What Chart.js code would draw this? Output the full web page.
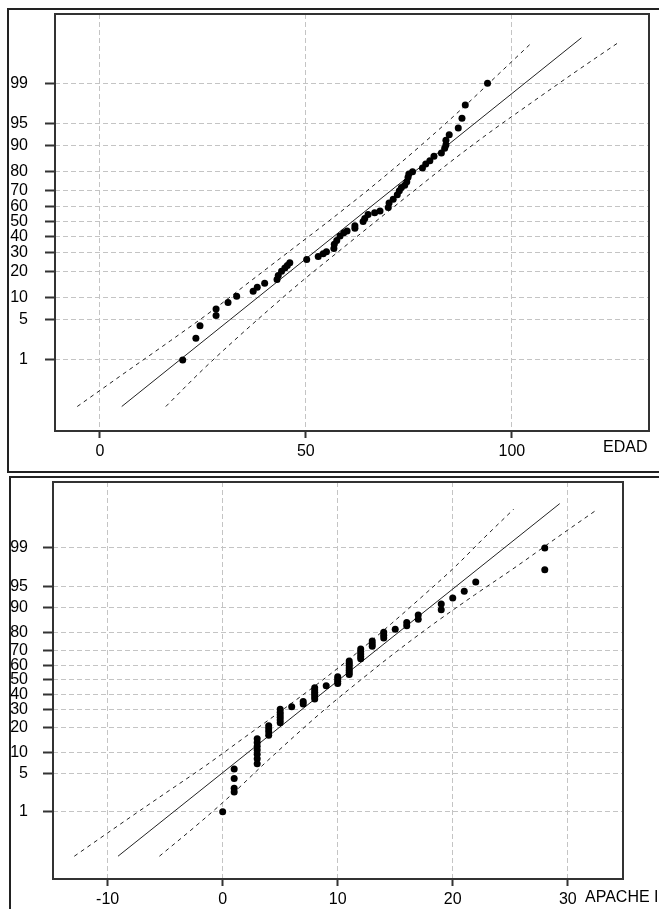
<!DOCTYPE html>
<html>
<head>
<meta charset="utf-8">
<title>Gráficos de probabilidad normal</title>
<script src="https://cdn.jsdelivr.net/npm/chart.js@4/dist/chart.umd.min.js"></script>
<style>
  body { margin: 0; background: #fff; width: 659px; height: 909px; overflow: hidden; position: relative; }
  .frame { position: absolute; box-sizing: border-box; border: 2px solid #222; }
  #frame-top { left: 7px; top: 8px; width: 700px; height: 465px; }
  #frame-bottom { left: 9px; top: 476px; width: 700px; height: 500px; }
  canvas { position: absolute; left: 0; }
  #edad-chart { top: 0; }
  #apache-chart { top: 472px; }
</style>
</head>
<body>
<div class="frame" id="frame-top"></div>
<div class="frame" id="frame-bottom"></div>
<canvas id="edad-chart" width="659" height="472"></canvas>
<canvas id="apache-chart" width="659" height="437"></canvas>
<script>
// --- 1. DATA (percent values) ---
const pctTicks = [1, 5, 10, 20, 30, 40, 50, 60, 70, 80, 90, 95, 99];
// percent levels where the confidence bands were read (x of each band per level)
const bandPct = [0.094, 0.62, 2.28, 6.68, 15.9, 30.9, 50, 69.1, 84.1, 93.3, 97.7, 99.38, 99.87];

// EDAD panel
const edadTicks = [0, 50, 100];
const edadX = [20.1, 23.3, 24.3, 28.2, 28.2, 31.1, 33.2, 37.2, 38.2, 40.0, 43.0, 43.3, 44.1, 44.9, 45.5, 46.1,
  50.2, 53.0, 54.2, 55.0, 56.8, 56.9, 57.5, 58.3, 59.2, 60.0, 61.9, 61.9, 63.9, 64.3, 65.1, 66.7, 68.0,
  70.0, 70.2, 71.2, 72.2, 72.7, 73.2, 74.0, 74.5, 74.8, 75.0, 75.9, 78.3, 79.1, 80.1, 81.1, 82.9, 83.7,
  84.0, 84.0, 84.8, 87.0, 87.9, 88.7, 94.1];
const edadPct = [1.0, 2.5, 4.0, 5.7, 7.1, 8.7, 10.5, 12.1, 13.5, 15.0, 16.5, 18.2, 20.2, 21.8, 23.0, 24.4,
  26.2, 27.9, 29.4, 30.6, 32.6, 35.1, 37.6, 40.4, 42.6, 43.7, 45.5, 47.3, 50.0, 52.0, 54.7, 56.0, 57.1,
  59.4, 62.2, 64.7, 67.4, 69.8, 71.7, 73.0, 74.9, 77.2, 78.8, 79.9, 81.6, 83.4, 84.7, 86.4, 87.6, 89.1,
  90.1, 91.4, 92.8, 94.2, 95.9, 97.5, 99.0];
const edadFitX = [5.3, 116.9];
const edadFitPct = [0.094, 99.9];
const edadUpperX = [-5.5, 6.9, 17.2, 27.2, 36.6, 46.0, 55.4, 64.5, 73.2, 81.5, 89.4, 97.1, 104.9];
const edadLowerX = [16.0, 24.8, 32.6, 40.7, 49.1, 58.0, 66.9, 75.9, 85.0, 94.6, 104.7, 115.1, 125.9];

// APACHE II panel
const apacheTicks = [-10, 0, 10, 20, 30];
const apacheX = [0, 1, 1, 1, 1, 3, 3, 3, 3, 3, 3, 3, 4, 4, 4, 4, 5, 5, 5, 5, 5, 5, 6, 7, 7,
  8, 8, 8, 8, 8, 8, 9, 10, 10, 10, 10, 11, 11, 11, 11, 11, 11, 11, 12, 12, 12, 12, 12,
  13, 13, 13, 14, 14, 14, 15, 16, 16, 17, 17, 19, 19, 20, 21, 22, 28, 28];
const apachePct = [1.0, 2.4, 2.8, 4.1, 5.8, 7.0, 8.2, 9.5, 10.8, 12.1, 13.5, 15.0, 16.5, 18.0, 19.5, 21.0,
  22.5, 24.0, 25.5, 27.0, 28.5, 30.2, 31.8, 33.5, 35.2, 36.8, 38.3, 39.9, 41.4, 43.0, 44.5, 46.0,
  47.5, 49.0, 50.6, 52.2, 53.8, 55.3, 56.8, 58.4, 60.0, 61.5, 63.0, 64.5, 66.1, 67.6, 69.2, 70.7,
  72.3, 73.8, 75.4, 77.0, 78.5, 80.0, 81.4, 83.0, 84.4, 85.8, 87.4, 89.2, 91.0, 92.6, 94.1, 95.8, 97.4, 99.0];
const apacheFitX = [-9.1, 29.3];
const apacheFitPct = [0.094, 99.906];
const apacheUpperX = [-12.9, -8.6, -5.0, -1.4, 2.0, 5.4, 8.7, 11.8, 14.7, 17.5, 20.2, 22.7, 25.3];
const apacheLowerX = [-5.5, -1.9, 0.9, 3.5, 6.2, 9.0, 12.0, 15.1, 18.4, 21.9, 25.5, 29.0, 32.6];

// --- 2. HELPERS ---
// inverse normal CDF (Acklam), used to place percents on the probability axis
function probit(p) {
    const a = [-39.69683028665376, 220.9460984245205, -275.9285104469687, 138.3577518672690, -30.66479806614716, 2.506628277459239];
    const b = [-54.47609879822406, 161.5858368580409, -155.6989798598866, 66.80131188771972, -13.28068155288572];
    const c = [-0.007784894002430293, -0.3223964580411365, -2.400758277161838, -2.549732539343734, 4.374664141464968, 2.938163982698783];
    const d = [0.007784695709041462, 0.3224671290700398, 2.445134137142996, 3.754408661907416];
    const pLow = 0.02425;
    if (p < pLow) {
        const q = Math.sqrt(-2 * Math.log(p));
        return (((((c[0] * q + c[1]) * q + c[2]) * q + c[3]) * q + c[4]) * q + c[5]) / ((((d[0] * q + d[1]) * q + d[2]) * q + d[3]) * q + 1);
    }
    if (p <= 1 - pLow) {
        const q = p - 0.5, r = q * q;
        return (((((a[0] * r + a[1]) * r + a[2]) * r + a[3]) * r + a[4]) * r + a[5]) * q / (((((b[0] * r + b[1]) * r + b[2]) * r + b[3]) * r + b[4]) * r + 1);
    }
    const q = Math.sqrt(-2 * Math.log(1 - p));
    return -(((((c[0] * q + c[1]) * q + c[2]) * q + c[3]) * q + c[4]) * q + c[5]) / ((((d[0] * q + d[1]) * q + d[2]) * q + d[3]) * q + 1);
}

const toPoints = (xs, pcts) => xs.map((x, i) => ({ x: x, y: probit(pcts[i] / 100) }));

const FONT = { family: '"Liberation Sans", Arial, sans-serif', size: 16 };
const INK = '#000';

// frame round the plot area + axis name written on the tick-label row
const framePlugin = {
    id: 'frame',
    afterDatasetsDraw(chart, args, opts) {
        const { ctx, chartArea: a } = chart;
        ctx.save();
        ctx.strokeStyle = '#333';
        ctx.lineWidth = 2;
        ctx.strokeRect(a.left, a.top, a.right - a.left, a.bottom - a.top);
        ctx.font = `${FONT.size}px ${FONT.family}`;
        ctx.fillStyle = INK;
        ctx.textBaseline = 'middle';
        ctx.textAlign = 'left';
        ctx.fillText(opts.title, opts.titleX, opts.titleY);
        ctx.restore();
    }
};

// keep the plot area exactly where the layout puts it (no extra label padding)
const noScalePadding = s => { s.paddingTop = 0; s.paddingBottom = 0; s.paddingLeft = 0; s.paddingRight = 0; };

// --- 3. CHART BUILDER ---
function buildProbPlot(canvasId, d) {
    const lineDs = (xs, pcts, dashed) => ({
        data: toPoints(xs, pcts),
        showLine: true,
        pointRadius: 0,
        borderColor: '#222',
        borderWidth: 1,
        borderDash: dashed ? [4, 4] : [],
        cubicInterpolationMode: 'monotone'
    });

    return new Chart(document.getElementById(canvasId), {
        type: 'scatter',
        data: {
            datasets: [
                {
                    data: toPoints(d.x, d.pct),
                    pointRadius: 3.5,
                    pointBackgroundColor: '#000',
                    pointBorderWidth: 0
                },
                lineDs(d.fitX, d.fitPct, false),
                lineDs(d.upX, bandPct, true),
                lineDs(d.loX, bandPct, true)
            ]
        },
        options: {
            responsive: false,
            animation: false,
            layout: { padding: { top: d.padTop, right: d.padRight, left: 0, bottom: 0 } },
            scales: {
                x: {
                    type: 'linear',
                    min: d.xMin,
                    max: d.xMax,
                    afterFit: s => { s.height = d.xAxisH; noScalePadding(s); },
                    afterBuildTicks: s => { s.ticks = d.xTicks.map(v => ({ value: v })); },
                    ticks: { font: FONT, color: INK, padding: 4, maxRotation: 0 },
                    grid: { color: '#c4c4c4', tickLength: 7, tickColor: '#333', tickWidth: 2, tickBorderDash: [] },
                    border: { display: false, dash: [5, 3] }
                },
                y: {
                    type: 'linear',
                    min: d.zMin,
                    max: d.zMax,
                    afterFit: s => { s.width = d.yAxisW; noScalePadding(s); },
                    afterBuildTicks: s => { s.ticks = pctTicks.map(p => ({ value: probit(p / 100) })); },
                    ticks: { font: FONT, color: INK, padding: d.yPad, autoSkip: false, callback: (v, i) => pctTicks[i] },
                    grid: { color: '#c4c4c4', tickLength: 10, tickColor: '#333', tickWidth: 2, tickBorderDash: [] },
                    border: { display: false, dash: [5, 3] }
                }
            },
            plugins: {
                legend: { display: false },
                tooltip: { enabled: false },
                frame: { title: d.title, titleX: d.titleX, titleY: d.titleY }
            }
        },
        plugins: [framePlugin]
    });
}

// --- 4. DRAW BOTH PANELS ---
buildProbPlot('edad-chart', {
    x: edadX, pct: edadPct,
    fitX: edadFitX, fitPct: edadFitPct,
    upX: edadUpperX, loX: edadLowerX,
    xTicks: edadTicks, xMin: -10.9, xMax: 133.3,
    zMin: -3.52, zMax: 3.49,
    padTop: 14, padRight: 10, yAxisW: 55, xAxisH: 41, yPad: 17,
    title: 'EDAD', titleX: 603, titleY: 448
});

buildProbPlot('apache-chart', {
    x: apacheX, pct: apachePct,
    fitX: apacheFitX, fitPct: apacheFitPct,
    upX: apacheUpperX, loX: apacheLowerX,
    xTicks: apacheTicks, xMin: -14.75, xMax: 34.8,
    zMin: -3.51, zMax: 3.49,
    padTop: 10, padRight: 36, yAxisW: 53, xAxisH: 30, yPad: 15,
    title: 'APACHE II', titleX: 585, titleY: 426
});
</script>
</body>
</html>
